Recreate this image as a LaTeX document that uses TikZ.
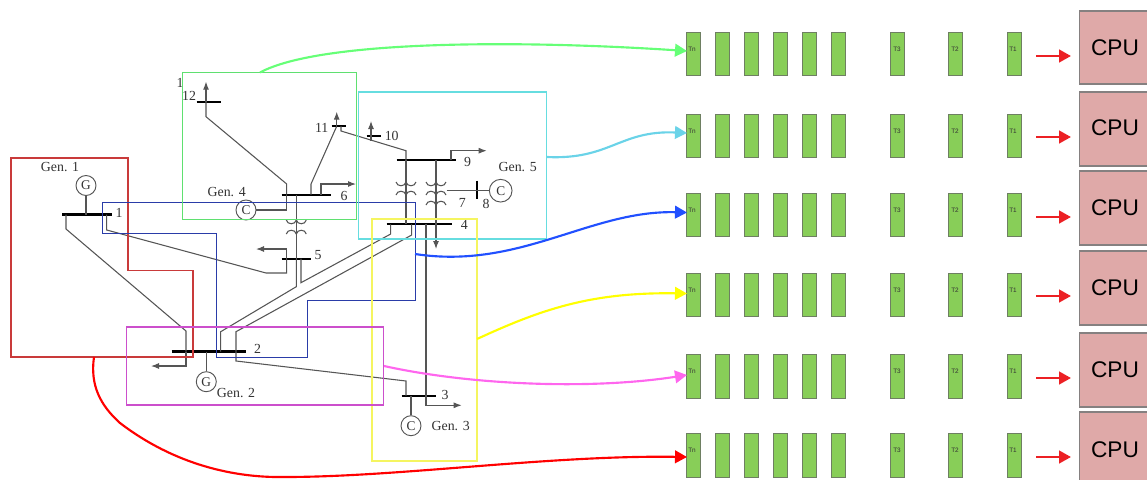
\documentclass[tikz,border=0pt]{standalone}
\usepackage{fontspec}
\setmainfont{Liberation Serif}
\newfontfamily\cpufont{Liberation Sans}
\usetikzlibrary{positioning, arrows.meta, calc, fit}

\definecolor{slotgreen}{HTML}{88CE58}
\definecolor{slotedge}{HTML}{6E7F62}
\definecolor{cpupink}{HTML}{DFA9A8}
\definecolor{cpuedge}{HTML}{858080}
\definecolor{wiregray}{HTML}{555555}
\definecolor{labelgray}{HTML}{333333}
\definecolor{zonered}{HTML}{C93A3A}
\definecolor{zonegreen}{HTML}{5FE070}
\definecolor{zonecyan}{HTML}{66DDE0}
\definecolor{zoneyellow}{HTML}{F5F560}
\definecolor{zonemagenta}{HTML}{CC4FCC}
\definecolor{zoneblue}{HTML}{2A3CA8}
\definecolor{curvegreen}{HTML}{66FF77}
\definecolor{curvecyan}{HTML}{6AD3E8}
\definecolor{curveblue}{HTML}{2150FF}
\definecolor{curveyellow}{HTML}{FFFF00}
\definecolor{curvemagenta}{HTML}{FF66EE}
\definecolor{curvered}{HTML}{FF0000}
\definecolor{feedred}{HTML}{EC2024}

\tikzset{
    wire/.style={wiregray, line width=0.8pt},
    load/.style={wire, -{Latex[length=6pt,width=4.5pt]}},
    busbar/.style={black, line width=1.7pt},
    gencircle/.style={circle, draw=wiregray, line width=0.7pt, minimum size=15pt, inner sep=0pt, text=labelgray, font=\fontsize{10}{10}\selectfont},
    netlabel/.style={inner sep=0pt, text=labelgray, font=\fontsize{10.4}{11}\selectfont},
    zone/.style={draw=#1, line width=0.8pt, inner sep=0pt},
    slotbox/.style={draw=slotedge, line width=0.8pt, fill=slotgreen, minimum width=10.6pt, minimum height=32.5pt, inner sep=0pt},
    slottag/.style={inner sep=0pt, text=black!80, font=\cpufont\fontsize{4.8}{5}\selectfont},
    cpubox/.style={draw=cpuedge, line width=1pt, fill=cpupink, minimum width=60pt, minimum height=#1, inner sep=0pt},
    cputext/.style={inner sep=0pt, font=\cpufont\fontsize{17}{18}\selectfont},
    feed/.style={feedred, line width=1.9pt, -{Triangle[length=9pt,width=9.5pt]}},
    curve/.style={#1, line width=1.6pt, -{Triangle[length=9pt,width=9.5pt]}},
}

% two transformer humps around x
\def\coilpair#1#2#3{
    \draw[wire] (#1-10,#2) .. controls (#1-9,#2+#3) and (#1-1,#2+#3) .. (#1,#2)
        .. controls (#1+1,#2+#3) and (#1+9,#2+#3) .. (#1+10,#2);
}

\begin{document}
\begin{tikzpicture}[x=0.75pt, y=-0.75pt]
    \useasboundingbox (0,0) rectangle (1147,479);

    % bus bars
    \foreach \busid/\xa/\xb/\ypos in {
        1/62/111.5/214.5,
        2/171.5/246/351.5,
        3/401.5/435.5/395.7,
        4/386.5/451.5/224.3,
        5/281.5/311/258.7,
        6/281.5/331/194.7,
        9/396.5/455.5/160.3,
        10/366.5/381/136.3,
        11/331.5/346/126.3,
        12/196.5/221/102}{

        \coordinate (b\busid l) at (\xa,\ypos);
        \coordinate (b\busid r) at (\xb,\ypos);
        \draw[busbar] (b\busid l) -- (b\busid r);
    }
    \coordinate (b8t) at (476.7,180.7);
    \coordinate (b8b) at (476.7,199.3);
    \draw[busbar] (b8t) -- (b8b);

    % generators
    \node[gencircle] (g1) at (86,185.5) {G};
    \node[gencircle] (g2) at (206.3,381.7) {G};
    \node[gencircle] (c3) at (411,425.7) {C};
    \node[gencircle] (c4) at (246,210) {C};
    \node[gencircle, minimum size=17pt] (c5) at (500.7,190.7) {C};

    \coordinate (tg1) at (86,214.5);
    \coordinate (tg2) at (206.3,351.5);
    \coordinate (tc3) at (411,395.7);
    \coordinate (tc4) at (286.7,194.7);
    \coordinate (t7) at (446.7,190.7);
    \draw[wire] (g1) -- (tg1);
    \draw[wire] (g2) -- (tg2);
    \draw[wire] (c3) -- (tc3);
    \draw[wire] (c4) -- (286.7,210) -- (tc4);
    \draw[wire] (t7) -- (c5);

    % end points of the lines
    \coordinate (t1a) at (66,214.5);
    \coordinate (t1b) at (106.7,214.5);
    \coordinate (t2a) at (186,351.5);
    \coordinate (t2b) at (220.7,351.5);
    \coordinate (t2c) at (236,351.5);
    \coordinate (t3a) at (406,395.7);
    \coordinate (t3b) at (426,395.7);
    \coordinate (t4a) at (390.7,224.3);
    \coordinate (t4b) at (411.7,224.3);
    \coordinate (t4c) at (426,224.3);
    \coordinate (t4d) at (406,224.3);
    \coordinate (t4e) at (436,224.3);
    \coordinate (t5a) at (286.7,258.7);
    \coordinate (t5b) at (296.3,258.7);
    \coordinate (t5c) at (301,258.7);
    \coordinate (t6a) at (296.3,194.7);
    \coordinate (t6b) at (311,194.7);
    \coordinate (t6c) at (321,194.7);
    \coordinate (t9a) at (406,160.3);
    \coordinate (t9b) at (436,160.3);
    \coordinate (t9c) at (451,160.3);
    \coordinate (t10) at (371,136.3);
    \coordinate (t11a) at (336.7,126.3);
    \coordinate (t11b) at (341,126.3);
    \coordinate (t12) at (206,102);

    % lines between the buses
    \draw[wire] (t1a) -- (66,229) -- (186,331) -- (t2a);
    \draw[wire] (t1b) -- (106.7,230) -- (266,273) -- (286.7,273) -- (t5a);
    \draw[wire] (t2b) -- (220.7,331.7) -- (296.3,286.7) -- (t5b);
    \draw[wire] (t2c) -- (236,331.7) -- (411.7,235) -- (t4b);
    \draw[wire] (t5c) -- (301,282.7) -- (390.7,234) -- (t4a);
    \draw[wire] (t2c) -- (236,361) -- (406,381) -- (t3a);
    \draw[wire] (t4c) -- (t3b);
    \draw[wire] (tc4) -- (286.7,184) -- (206,116.7) -- (t12);
    \draw[wire] (t6b) -- (311,184) -- (t11a);
    \draw[wire] (t11b) -- (341,131) -- (406,150.7) -- (t9a);
    \draw[wire] (t10) -- (371,141);

    % transformers
    \draw[wire] (t9a) -- (t4d);
    \draw[wire] (t9b) -- (t4e);
    \draw[wire] (t6a) -- (t5b);
    \coilpair{406}{182}{5}
    \coilpair{406}{195}{-5}
    \coilpair{436}{182}{5}
    \coilpair{436}{195}{-5}
    \coilpair{436}{205}{-5}
    \coilpair{296.3}{220}{5}
    \coilpair{296.3}{234}{-5}

    % loads
    \draw[load] (t12) -- (206,81.7);
    \draw[load] (t11a) -- (336.7,111.7);
    \draw[load] (t10) -- (371,121);
    \draw[load] (t9c) -- (451,150.7) -- (486.7,150.7);
    \draw[load] (t6c) -- (321,184) -- (356,184);
    \draw[load] (t5a) -- (286.7,249) -- (256,249);
    \draw[load] (t4e) -- (436,249);
    \draw[load] (t3b) -- (426,405.3) -- (461.7,405.3);
    \draw[load] (t2a) -- (186,366) -- (151,366);

    % bus and generator labels
    \foreach \labname/\xpos/\ypos/\labtext in {
        l1/119/213/1,
        l2/257.7/349.3/2,
        l3/445/395/3,
        l4/464.3/225/4,
        l5/318/255/5,
        l6/344/195.7/6,
        l7/462.3/203.3/7,
        l8/486/204/8,
        l9/467.7/161.7/9,
        l10/391.7/136/10,
        l11/321.7/127.7/11,
        l12/189/95.7/12,
        lx/180/83/1,
        gen1/60/167.5/Gen. 1,
        gen2/236/392.7/Gen. 2,
        gen3/450.7/426/Gen. 3,
        gen4/226.7/191.7/Gen. 4,
        gen5/517.7/167.3/Gen. 5}{

        \node[netlabel] (\labname) at (\xpos,\ypos) {\labtext};
    }

    % zones
    \draw[zonered, line width=0.8pt] (11,158) -- (128,158) -- (128,270.5) -- (193,270.5) -- (193,357) -- (11,357) -- cycle;
    \draw[zoneblue, line width=0.7pt] (102,202) -- (415,202) -- (415,300) -- (307.3,300) -- (307.3,357) -- (216,357) -- (216,233) -- (102,233) -- cycle;
    \foreach \zoneid/\xa/\ya/\xb/\yb/\co in {
        four/182.5/72.5/356.5/219.5/zonegreen,
        five/358.7/92/546.7/239/zonecyan,
        three/372/219/477/461/zoneyellow,
        two/126.7/327/383.7/405/zonemagenta}{

        \coordinate (\zoneid a) at (\xa,\ya);
        \coordinate (\zoneid b) at (\xb,\yb);
        \node[zone=\co, fit=(\zoneid a)(\zoneid b)] (zone\zoneid) {};
    }

    % queues with cpu
    \foreach \rowid/\ycen/\yarrow/\ycpu/\hcpu/\ytext in {
        1/54/56/47.5/73/48,
        2/136/137/129/74/128,
        3/215/217/208/74/208,
        4/295/296/288/74/288,
        5/376.5/378/370/74/370,
        6/455.5/457/449.5/75/449.5}{

        \foreach \slotid/\xpos/\xtag/\tagtext in {
            n/693.5/692/Tn,
            a/722.5/722.5/,
            b/751.5/751.5/,
            c/780.5/780.5/,
            d/809.5/809.5/,
            e/838.5/838.5/,
            t/897.5/897/T3,
            s/955.5/955/T2,
            o/1014.5/1013/T1}{

            \node[slotbox] (q\rowid\slotid) at (\xpos,\ycen) {};
            \node[slottag] (tag\rowid\slotid) at (\xtag,\ycen-5) {\tagtext};
        }

        \node[cpubox=\hcpu*0.75pt, anchor=west] (cpu\rowid) at (1079,\ycpu) {};
        \node[cputext] (cput\rowid) at (1115,\ytext) {CPU};

        \coordinate (fa\rowid) at (1036,\yarrow);
        \coordinate (fb\rowid) at (1071,\yarrow);
        \draw[feed] (fa\rowid) -- (fb\rowid);
    }

    % curves from the zones to the queues
    \coordinate (s1) at (260,72.5);
    \coordinate (s2) at (547,157);
    \coordinate (s3) at (415,254);
    \coordinate (s4) at (477,339);
    \coordinate (s5) at (384,366);
    \coordinate (s6) at (94,357);
    \coordinate (e1) at (687,51);
    \coordinate (e2) at (687,133);
    \coordinate (e3) at (687,212.5);
    \coordinate (e4) at (687,293.5);
    \coordinate (e5) at (687,375);
    \coordinate (e6) at (687,457);
    \draw[curve=curvegreen] (s1) .. controls (320,40) and (520,40) .. (e1);
    \draw[curve=curvecyan] (s2) .. controls (610,160) and (620,130) .. (e2);
    \draw[curve=curveblue] (s3) .. controls (520,270) and (590,210) .. (e3);
    \draw[curve=curveyellow] (s4) .. controls (540,310) and (590,292) .. (e4);
    \draw[curve=curvemagenta] (s5) .. controls (470,385) and (590,390) .. (e5);
    \draw[curve=curvered] (s6) .. controls (90,385) and (100,405) .. (120,423)
        .. controls (175,465) and (235,478) .. (285,477)
        .. controls (400,477) and (550,455) .. (e6);
\end{tikzpicture}
\end{document}
